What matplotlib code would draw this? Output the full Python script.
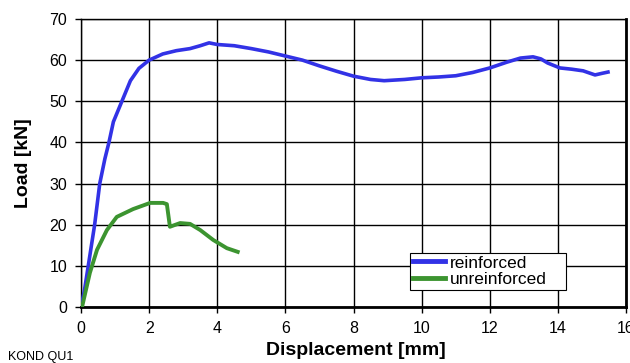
import matplotlib
matplotlib.use("Agg")
import matplotlib.pyplot as plt

plt.rcParams['font.family'] = ['Liberation Sans', 'DejaVu Sans']

# Load-displacement curves
reinf_x = [0, 0.1, 0.25, 0.4, 0.55, 0.7, 0.82, 0.95, 1.2, 1.45, 1.7, 2.0, 2.4, 2.8,
           3.2, 3.5, 3.76, 4.0, 4.5, 5.0, 5.5, 6.0, 6.5, 7.0, 7.5, 8.0, 8.5, 8.9,
           9.5, 10.0, 10.5, 11.0, 11.5, 12.0, 12.5, 12.9, 13.27, 13.5, 13.7, 14.06,
           14.4, 14.74, 15.09, 15.3, 15.47]
reinf_y = [0, 4, 12, 20, 30, 36, 40, 45, 50, 55, 58, 60, 61.5, 62.3,
           62.8, 63.5, 64.2, 63.8, 63.5, 62.8, 62.0, 61.0, 60.0, 58.6, 57.3, 56.1, 55.3, 55.0,
           55.3, 55.7, 55.9, 56.2, 57.0, 58.1, 59.5, 60.5, 60.8, 60.3, 59.3, 58.1,
           57.8, 57.4, 56.4, 56.8, 57.1]

unreinf_x = [0.03, 0.26, 0.47, 0.76, 1.05, 1.53, 2.03, 2.41, 2.52, 2.61, 2.91, 3.2,
             3.5, 3.88, 4.28, 4.6]
unreinf_y = [0, 8.3, 13.9, 18.7, 21.9, 23.8, 25.3, 25.3, 25.0, 19.5, 20.4, 20.2,
             18.7, 16.3, 14.3, 13.4]

x_ticks = [0, 2, 4, 6, 8, 10, 12, 14, 16]
y_ticks = [0, 10, 20, 30, 40, 50, 60, 70]

fig = plt.figure(figsize=(6.3, 3.63), dpi=100)
ax = fig.add_axes([0.1286, 0.1543, 0.8651, 0.7934])

ax.plot(reinf_x, reinf_y, color='#3232e6', lw=2.6, label='reinforced', zorder=3)
ax.plot(unreinf_x, unreinf_y, color='#3c9430', lw=2.8, label='unreinforced', zorder=3)

ax.set_xlim(0, 16)
ax.set_ylim(0, 70)
ax.set_xticks(x_ticks)
ax.set_yticks(y_ticks)
ax.grid(True, color='black', lw=1.0)
ax.set_axisbelow(True)

for side in ['top', 'left']:
    ax.spines[side].set_linewidth(1.0)
for side in ['bottom', 'right']:
    ax.spines[side].set_linewidth(2.0)

ax.tick_params(axis='both', direction='out', length=4, width=1, labelsize=11.5,
               colors='black')
ax.tick_params(axis='x', pad=6)
ax.tick_params(axis='y', pad=6)
ax.set_xticklabels([str(t) for t in x_ticks])
for lbl in ax.get_xticklabels():
    lbl.set_clip_on(False)

ax.set_xlabel('Displacement [mm]', fontsize=14, fontweight='bold')
ax.set_ylabel('Load [kN]', fontsize=14, fontweight='bold')
ax.xaxis.set_label_coords(0.504, -0.12)
ax.yaxis.set_label_coords(-0.09, 0.5)

leg = ax.legend(loc='lower left', bbox_to_anchor=(0.604, 0.059, 0.286, 0.16),
                mode='expand', fancybox=False, framealpha=1, edgecolor='black',
                fontsize=12.5, handlelength=1.85, handletextpad=0.3,
                borderpad=0.15, labelspacing=0.1, borderaxespad=0)
leg.get_frame().set_linewidth(0.8)
for line in leg.get_lines():
    line.set_linewidth(3.5)

fig.text(0.013, 0.017, 'KOND QU1', fontsize=9, va='center')

fig.savefig('out.png', dpi=100)
